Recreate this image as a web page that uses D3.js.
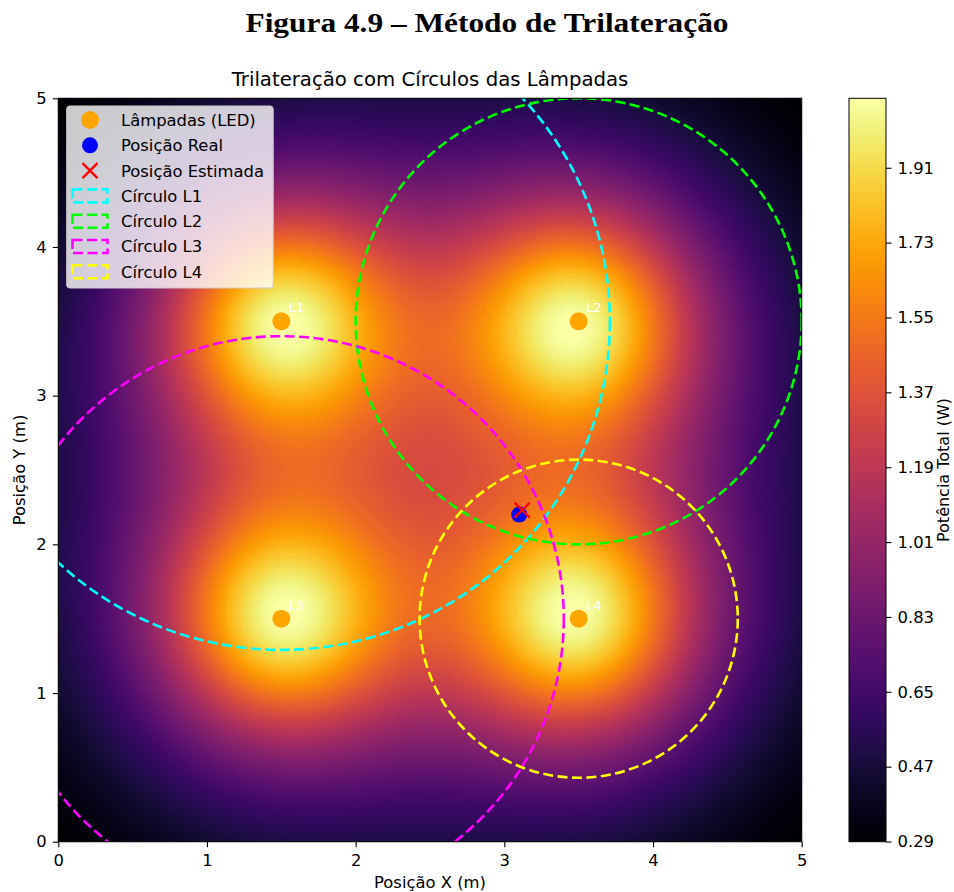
<!DOCTYPE html>
<html>
<head>
<meta charset="utf-8">
<script src="https://cdn.jsdelivr.net/npm/d3@7"></script>
<style>
  body { margin: 0; background: #fff; }
  svg { display: block; }
  text { font-family: "DejaVu Sans", sans-serif; fill: #000; }
</style>
</head>
<body>
<svg id="fig" width="954" height="892"></svg>
<script>
// ---- Data -------------------------------------------------------------
const lampNames = ["L1", "L2", "L3", "L4"];
const lampX = [1.5, 3.5, 1.5, 3.5];
const lampY = [3.5, 3.5, 1.5, 1.5];

// estimated distance to each lamp (circle radius, m)
const circleRadii = [2.21, 1.5, 1.9, 1.07];
const circleColors = ["#00ffff", "#00ff00", "#ff00ff", "#ffff00"];
const circleLabels = ["Círculo L1", "Círculo L2", "Círculo L3", "Círculo L4"];

const realPos = [3.1, 2.2];
const estPos = [3.12, 2.23];

// received-power model (Lambertian LOS, order 1) plus ambient level
const lampHeight = 1.2;      // m
const lampGain = 1.6466;     // W
const ambientPower = 0.1613; // W
const powerRange = [0.2896, 2.077];

const roomExtent = [0, 5];
const axisTicks = [0, 1, 2, 3, 4, 5];
const colorbarTicks = [0.29, 0.47, 0.65, 0.83, 1.01, 1.19, 1.37, 1.55, 1.73, 1.91];
const gridCells = 300;

const legendLabels = ["Lâmpadas (LED)", "Posição Real", "Posição Estimada"];

// ---- Layout -----------------------------------------------------------
const plot = { left: 58.3, top: 98.3, right: 801.7, bottom: 841.7 };
const cbar = { left: 849, right: 886 };
const baseFont = "16.4px";

const svg = d3.select("#fig");

const x = d3.scaleLinear().domain(roomExtent).range([plot.left, plot.right]);
const y = d3.scaleLinear().domain(roomExtent).range([plot.bottom, plot.top]);
const color = d3.scaleSequential(d3.interpolateInferno).domain(powerRange);
const cbScale = d3.scaleLinear().domain(powerRange).range([plot.bottom, plot.top]);

function power(px, py) {
  let s = 0;
  for (let i = 0; i < lampX.length; i++) {
    const r2 = (px - lampX[i]) ** 2 + (py - lampY[i]) ** 2;
    const q = 1 + r2 / (lampHeight * lampHeight);
    s += 1 / (q * q);
  }
  return ambientPower + lampGain * s;
}

// ---- Heat map (canvas, embedded as an image) -------------------------
const W = Math.round(plot.right - plot.left), H = Math.round(plot.bottom - plot.top);
const canvas = document.createElement("canvas");
canvas.width = W; canvas.height = H;
const ctx = canvas.getContext("2d");
const step = (roomExtent[1] - roomExtent[0]) / gridCells;
for (let i = 0; i < gridCells; i++) {
  for (let j = 0; j < gridCells; j++) {
    const gx0 = roomExtent[0] + i * step, gy0 = roomExtent[0] + j * step;
    const v = power(gx0 + step / 2, gy0 + step / 2);
    ctx.fillStyle = color(v);
    const px0 = x(gx0) - plot.left, px1 = x(gx0 + step) - plot.left;
    const py0 = y(gy0 + step) - plot.top, py1 = y(gy0) - plot.top;
    ctx.fillRect(Math.floor(px0), Math.floor(py0), Math.ceil(px1) - Math.floor(px0), Math.ceil(py1) - Math.floor(py0));
  }
}
svg.append("image")
  .attr("x", plot.left).attr("y", plot.top)
  .attr("width", plot.right - plot.left).attr("height", plot.bottom - plot.top)
  .attr("preserveAspectRatio", "none")
  .attr("href", canvas.toDataURL());

// clip for overlays
svg.append("defs").append("clipPath").attr("id", "plotClip")
  .append("rect")
  .attr("x", plot.left).attr("y", plot.top)
  .attr("width", plot.right - plot.left).attr("height", plot.bottom - plot.top);

const overlay = svg.append("g").attr("clip-path", "url(#plotClip)");

// distance circles
overlay.selectAll("circle.range")
  .data(circleRadii)
  .join("circle")
  .attr("class", "range")
  .attr("cx", (d, i) => x(lampX[i]))
  .attr("cy", (d, i) => y(lampY[i]))
  .attr("r", d => x(d) - x(0))
  .attr("fill", "none")
  .attr("stroke", (d, i) => circleColors[i])
  .attr("stroke-width", 2.6)
  .attr("stroke-dasharray", "10,4.5");

// lamps
overlay.selectAll("circle.lamp")
  .data(lampNames)
  .join("circle")
  .attr("class", "lamp")
  .attr("cx", (d, i) => x(lampX[i]))
  .attr("cy", (d, i) => y(lampY[i]))
  .attr("r", 9)
  .attr("fill", "#ffa500");

overlay.selectAll("text.lampLabel")
  .data(lampNames)
  .join("text")
  .attr("class", "lampLabel")
  .attr("x", (d, i) => x(lampX[i] + 0.05))
  .attr("y", (d, i) => y(lampY[i] + 0.06))
  .style("fill", "#fff")
  .style("font-size", "13px")
  .text(d => d);

// real position
overlay.append("circle")
  .attr("cx", x(realPos[0])).attr("cy", y(realPos[1]))
  .attr("r", 8).attr("fill", "#0000ff");

// estimated position (x marker)
function xMarker(g, cx, cy, s) {
  g.append("path")
    .attr("d", `M${cx - s},${cy - s}L${cx + s},${cy + s}M${cx - s},${cy + s}L${cx + s},${cy - s}`)
    .attr("stroke", "#ff0000").attr("stroke-width", 2.3).attr("fill", "none");
}
xMarker(overlay, x(estPos[0]), y(estPos[1]), 7.5);

// ---- Axes -------------------------------------------------------------
svg.append("rect")
  .attr("x", plot.left).attr("y", plot.top)
  .attr("width", plot.right - plot.left).attr("height", plot.bottom - plot.top)
  .attr("fill", "none").attr("stroke", "#000").attr("stroke-width", 1.1);

const xAxis = svg.append("g")
  .attr("transform", `translate(0,${plot.bottom})`)
  .call(d3.axisBottom(x).tickValues(axisTicks).tickFormat(d3.format("d")).tickSize(5.5).tickPadding(7));
const yAxis = svg.append("g")
  .attr("transform", `translate(${plot.left},0)`)
  .call(d3.axisLeft(y).tickValues(axisTicks).tickFormat(d3.format("d")).tickSize(5.5).tickPadding(6));
[xAxis, yAxis].forEach(a => {
  a.select(".domain").remove();
  a.selectAll(".tick line").attr("stroke", "#000").attr("stroke-width", 1.1);
  a.selectAll(".tick text").style("font-size", baseFont).style("font-family", "DejaVu Sans").attr("fill", "#000");
});

// ---- Colorbar ---------------------------------------------------------
const grad = svg.select("defs").append("linearGradient")
  .attr("id", "cbGrad").attr("x1", 0).attr("y1", 1).attr("x2", 0).attr("y2", 0);
d3.range(0, 1.0001, 0.02).forEach(t => {
  grad.append("stop").attr("offset", t)
    .attr("stop-color", color(powerRange[0] + t * (powerRange[1] - powerRange[0])));
});
svg.append("rect")
  .attr("x", cbar.left).attr("y", plot.top)
  .attr("width", cbar.right - cbar.left).attr("height", plot.bottom - plot.top)
  .attr("fill", "url(#cbGrad)")
  .attr("stroke", "#000").attr("stroke-width", 1);

const cbAxis = svg.append("g")
  .attr("transform", `translate(${cbar.right},0)`)
  .call(d3.axisRight(cbScale).tickValues(colorbarTicks).tickFormat(d3.format(".2f")).tickSize(5.5).tickPadding(6));
cbAxis.select(".domain").remove();
cbAxis.selectAll(".tick line").attr("stroke", "#000").attr("stroke-width", 1.1);
cbAxis.selectAll(".tick text").style("font-size", baseFont).style("font-family", "DejaVu Sans").attr("fill", "#000");

// ---- Titles and labels ------------------------------------------------
svg.append("text")
  .attr("x", 487).attr("y", 32)
  .attr("text-anchor", "middle")
  .attr("textLength", 483)
  .attr("lengthAdjust", "spacingAndGlyphs")
  .style("font-family", "'Liberation Serif', serif")
  .style("font-weight", "bold")
  .style("font-size", "27px")
  .text("Figura 4.9 – Método de Trilateração");

svg.append("text")
  .attr("x", (plot.left + plot.right) / 2).attr("y", 86)
  .attr("text-anchor", "middle")
  .style("font-size", "19.7px")
  .text("Trilateração com Círculos das Lâmpadas");

svg.append("text")
  .attr("x", (plot.left + plot.right) / 2).attr("y", 888)
  .attr("text-anchor", "middle")
  .style("font-size", baseFont)
  .text("Posição X (m)");

svg.append("text")
  .attr("transform", `translate(25,${(plot.top + plot.bottom) / 2}) rotate(-90)`)
  .attr("text-anchor", "middle")
  .style("font-size", baseFont)
  .text("Posição Y (m)");

svg.append("text")
  .attr("transform", `translate(949,${(plot.top + plot.bottom) / 2}) rotate(-90)`)
  .attr("text-anchor", "middle")
  .style("font-size", "16px")
  .text("Potência Total (W)");

// ---- Legend -----------------------------------------------------------
const leg = svg.append("g");
leg.append("rect")
  .attr("x", 66.7).attr("y", 106).attr("width", 206.5).attr("height", 182)
  .attr("rx", 3).attr("fill", "#fff").attr("fill-opacity", 0.8)
  .attr("stroke", "#cccccc").attr("stroke-width", 1);

const rowY = i => 120 + i * 25.3;
const markX = 90;
const textX = 121;

leg.append("circle").attr("cx", markX).attr("cy", rowY(0)).attr("r", 9).attr("fill", "#ffa500");
leg.append("circle").attr("cx", markX).attr("cy", rowY(1)).attr("r", 8).attr("fill", "#0000ff");
xMarker(leg, markX, rowY(2), 7.5);

leg.selectAll("rect.handle")
  .data(circleColors)
  .join("rect")
  .attr("class", "handle")
  .attr("x", 72.5).attr("y", (d, i) => rowY(i + 3) - 6.5)
  .attr("width", 35).attr("height", 13)
  .attr("fill", "none")
  .attr("stroke", d => d)
  .attr("stroke-width", 2.6)
  .attr("stroke-dasharray", "10,4.5");

leg.selectAll("text.entry")
  .data(legendLabels.concat(circleLabels))
  .join("text")
  .attr("class", "entry")
  .attr("x", textX)
  .attr("y", (d, i) => rowY(i))
  .attr("dy", "0.36em")
  .style("font-size", baseFont)
  .text(d => d);
</script>
</body>
</html>
